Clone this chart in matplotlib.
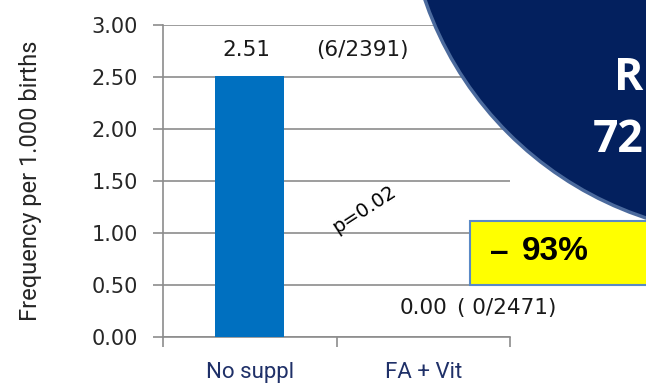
import matplotlib.pyplot as plt
from matplotlib.patches import Circle, Rectangle

# Data
groups = ['No suppl', 'FA + Vit']
freq = [2.51, 0.00]
counts = ['(6/2391)', '( 0/2471)']
y_ticks = [0.0, 0.5, 1.0, 1.5, 2.0, 2.5, 3.0]

W, H = 646, 386
fig = plt.figure(figsize=(W / 100, H / 100), dpi=100)
ax = fig.add_axes([163 / W, 1 - 337 / H, (510 - 163) / W, (337 - 25) / H])

grid_col = '#8c8c8c'
x = list(range(len(groups)))
ax.bar(x, freq, width=0.4, color='#0070c0', zorder=3)
ax.set_xlim(-0.5, 1.5)
ax.set_ylim(0, 3.0)
ax.set_yticks(y_ticks)
ax.set_yticklabels(['%.2f' % v for v in y_ticks], fontsize=15, family='DejaVu Sans', color='#262626')
ax.set_xticks([-0.5, 0.5, 1.5], minor=False)
ax.set_xticklabels([])
ax.set_xticks(x, minor=True)
ax.set_xticklabels(groups, minor=True, fontsize=16, family='Roboto', color='#1f3068')
ax.tick_params(axis='x', which='major', length=7, width=1.2, color=grid_col)
ax.tick_params(axis='x', which='minor', length=0, pad=18)
ax.tick_params(axis='y', length=7, width=1.2, color=grid_col, pad=11)
ax.yaxis.grid(True, color=grid_col, linewidth=1.2, zorder=0)
for s in ['top', 'right']:
    ax.spines[s].set_visible(False)
for s in ['left', 'bottom']:
    ax.spines[s].set_color(grid_col)
    ax.spines[s].set_linewidth(1.2)
ax.set_ylabel('Frequency per 1.000 births', fontsize=17, family='Roboto', color='#262626', labelpad=36)

# value labels above the bars
lab = dict(ha='center', va='center', fontsize=15.5, family='DejaVu Sans', color='#1a1a1a')
ax.text(0 - 0.02, freq[0] + 0.25, '%.2f' % freq[0], **lab)
ax.text(0 + 0.65, freq[0] + 0.25, counts[0], **lab)
ax.text(1 - 0.0, freq[1] + 0.28, '%.2f' % freq[1], **lab)
ax.text(1 + 0.48, freq[1] + 0.28, counts[1], **lab)
ax.text(0.66, 1.23, 'p=0.02', rotation=33, ha='center', va='center', fontsize=14, family='DejaVu Sans')

# overlay in pixel coordinates for the callout shapes
ov = fig.add_axes([0, 0, 1, 1], zorder=5)
ov.set_xlim(0, W)
ov.set_ylim(H, 0)
ov.axis('off')
ov.patch.set_alpha(0)
ov.add_patch(Circle((755, -113.6), 349, facecolor='#03205e', edgecolor='#4b6a9d', linewidth=2.5))
ov.text(643, 78, 'R', color='white', fontsize=32, fontweight='bold', ha='right', va='center', family='Open Sans')
ov.text(643, 140, '72', color='white', fontsize=32, fontweight='bold', ha='right', va='center', family='Open Sans')
ov.add_patch(Rectangle((470, 221), 200, 64, facecolor='#ffff00', edgecolor='#5a8ac6', linewidth=1.5))
ov.text(490, 252, '–', fontsize=24, fontweight='bold', ha='left', va='center', family='Liberation Sans')
ov.text(522, 252, '93%', fontsize=24, fontweight='bold', ha='left', va='center', family='Liberation Sans')

fig.savefig('out.png', dpi=100)
